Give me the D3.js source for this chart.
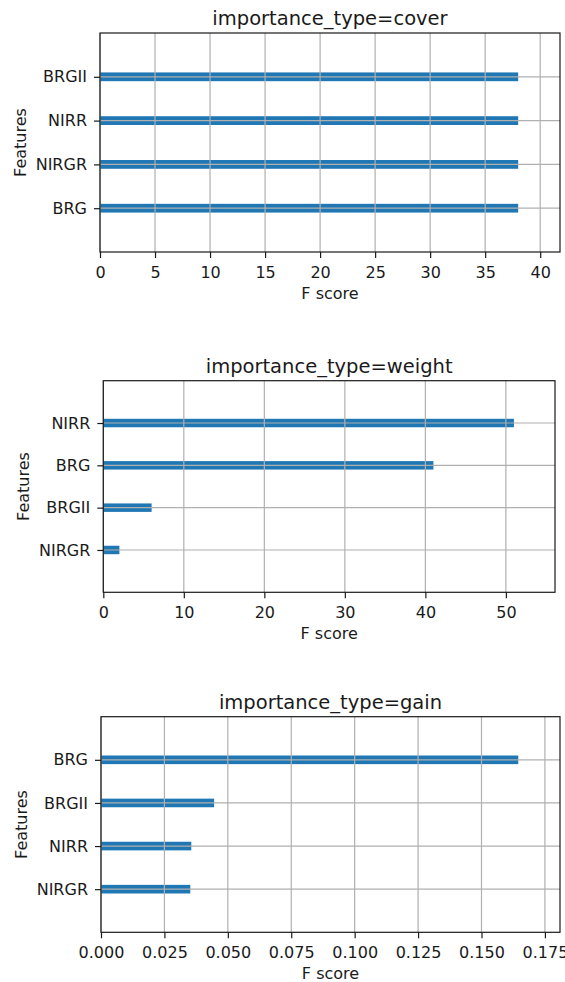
<!DOCTYPE html>
<html lang="en">

<head>
    <meta charset="UTF-8">
    <title>Feature importance</title>
    <script src="https://d3js.org/d3.v7.min.js"></script>
</head>
<style>
    body {
        margin: 0;
        background: #fff;
    }

    text {
        font-family: "DejaVu Sans", sans-serif;
        fill: #1a1a1a;
    }

    .axis path.domain {
        display: none;
    }

    .axis line {
        stroke: #1a1a1a;
        stroke-width: 1.2px;
    }

    .axis text {
        font-size: 16px;
    }

    .grid line {
        stroke: #b0b0b0;
        stroke-width: 1.2px;
    }

    .bar {
        fill: #1f77b4;
    }

    .frame {
        fill: none;
        stroke: #1a1a1a;
        stroke-width: 1.2px;
    }
</style>

<body>
    <svg id="chart" width="565" height="982"></svg>

    <script>
        // values (bottom bar first, like xgboost draws them)
        var coverFeatures = ["BRG", "NIRGR", "NIRR", "BRGII"];
        var coverScores = [38, 38, 38, 38];
        var coverTicks = [0, 5, 10, 15, 20, 25, 30, 35, 40];

        var weightFeatures = ["NIRGR", "BRGII", "BRG", "NIRR"];
        var weightScores = [2, 6, 41, 51];
        var weightTicks = [0, 10, 20, 30, 40, 50];

        var gainFeatures = ["NIRGR", "NIRR", "BRGII", "BRG"];
        var gainScores = [0.0352, 0.0356, 0.0446, 0.1645];
        var gainTicks = [0, 0.025, 0.05, 0.075, 0.1, 0.125, 0.15, 0.175];

        var panels = [{
            title: "importance_type=cover",
            features: coverFeatures,
            scores: coverScores,
            ticks: coverTicks,
            fmt: d3.format("d"),
            box: { left: 100, right: 560, top: 33, bottom: 252 }
        }, {
            title: "importance_type=weight",
            features: weightFeatures,
            scores: weightScores,
            ticks: weightTicks,
            fmt: d3.format("d"),
            box: { left: 103.3, right: 555, top: 380.7, bottom: 592.3 }
        }, {
            title: "importance_type=gain",
            features: gainFeatures,
            scores: gainScores,
            ticks: gainTicks,
            fmt: d3.format(".3f"),
            box: { left: 101, right: 560, top: 716.7, bottom: 932.3 }
        }];

        var svg = d3.select("#chart");

        panels.forEach(function(p) {
            var b = p.box,
                width = b.right - b.left,
                height = b.bottom - b.top;
            var idx = d3.range(p.features.length);

            var g = svg.append("g")
                .attr("transform", "translate(" + b.left + "," + b.top + ")");

            // xgboost: xlim = max * 1.1, ylim = (-1, n)
            var x = d3.scaleLinear()
                .domain([0, d3.max(p.scores) * 1.1])
                .range([0, width]);
            var y = d3.scaleLinear()
                .domain([-1, p.features.length])
                .range([height, 0]);
            var barH = y(0) - y(0.2);

            // bars
            g.selectAll(".bar")
                .data(idx)
                .enter().append("rect")
                .attr("class", "bar")
                .attr("x", x(0))
                .attr("y", function(i) {
                    return y(i) - barH / 2;
                })
                .attr("width", function(i) {
                    return x(p.scores[i]) - x(0);
                })
                .attr("height", barH);

            // grid sits above the bars
            var grid = g.append("g").attr("class", "grid");
            grid.selectAll(".gx")
                .data(p.ticks)
                .enter().append("line")
                .attr("x1", function(d) { return x(d); })
                .attr("x2", function(d) { return x(d); })
                .attr("y1", 0)
                .attr("y2", height);
            grid.selectAll(".gy")
                .data(idx)
                .enter().append("line")
                .attr("x1", 0)
                .attr("x2", width)
                .attr("y1", function(i) { return y(i); })
                .attr("y2", function(i) { return y(i); });

            g.append("rect")
                .attr("class", "frame")
                .attr("width", width)
                .attr("height", height);

            // axes
            g.append("g")
                .attr("class", "axis")
                .attr("transform", "translate(0," + height + ")")
                .call(d3.axisBottom(x)
                    .tickValues(p.ticks)
                    .tickFormat(p.fmt)
                    .tickSize(6)
                    .tickPadding(8.6));

            g.append("g")
                .attr("class", "axis")
                .call(d3.axisLeft(y)
                    .tickValues(idx)
                    .tickFormat(function(i) { return p.features[i]; })
                    .tickSize(6)
                    .tickPadding(7));

            // labels
            g.append("text")
                .attr("x", width / 2)
                .attr("y", -8)
                .attr("text-anchor", "middle")
                .style("font-size", "19.5px")
                .text(p.title);

            g.append("text")
                .attr("x", width / 2)
                .attr("y", height + 46.5)
                .attr("text-anchor", "middle")
                .style("font-size", "16px")
                .text("F score");

            g.append("text")
                .attr("transform", "translate(-74," + height / 2 + ") rotate(-90)")
                .attr("text-anchor", "middle")
                .style("font-size", "16px")
                .text("Features");
        });
    </script>
</body>

</html>
